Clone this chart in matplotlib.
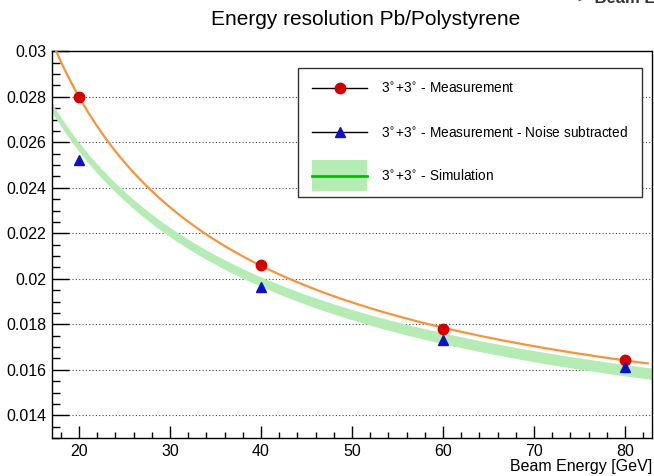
import numpy as np
import matplotlib
matplotlib.use('Agg')
import matplotlib.pyplot as plt
from matplotlib.lines import Line2D
from matplotlib.patches import Patch, Rectangle
from matplotlib.legend_handler import HandlerPatch
from matplotlib.ticker import MultipleLocator, FuncFormatter

plt.rcParams['font.family'] = ['Liberation Sans', 'DejaVu Sans']

# beam energies [GeV]
energy = np.array([20, 40, 60, 80])
# 3+3 measurement and noise subtracted measurement
meas = np.array([0.0280, 0.02059, 0.01781, 0.01644])
meas_nosub = np.array([0.0252, 0.01963, 0.0173, 0.01612])
# simulation: resolution and band half width
sim = np.array([0.0258, 0.01987, 0.01739, 0.01598])
sim_err = np.array([0.00020, 0.00021, 0.00024, 0.00025])

label_meas = r'3$^{\circ}$+3$^{\circ}$ - Measurement'
label_nosub = r'3$^{\circ}$+3$^{\circ}$ - Measurement - Noise subtracted'
label_sim = r'3$^{\circ}$+3$^{\circ}$ - Simulation'


def reso_fit(e, s):
    # sigma^2 = c^2/E^2 + a^2/E + b^2
    p = np.polyfit(1.0 / e, s ** 2, 2)
    return lambda x: np.sqrt(np.polyval(p, 1.0 / x))


def tall_box(legend, orig_handle, xdescent, ydescent, width, height, fontsize):
    # band entry drawn as a tall box like ROOT's fill style
    cy = -ydescent + height / 2.0
    h = 22.5
    return Rectangle((-xdescent, cy - h / 2), width, h)


fig = plt.figure(figsize=(6.54, 4.76), dpi=100)
ax = fig.add_axes([0.079, 0.0798, 0.9183, 0.8124])

xx = np.linspace(17, 83, 300)
f_sim = reso_fit(energy, sim)
w = np.interp(xx, energy, sim_err)
ax.fill_between(xx, f_sim(xx) - w, f_sim(xx) + w, color='#b4ecb4', lw=0, zorder=1)

xf = np.linspace(17, 82.5, 300)
f_meas = reso_fit(energy, meas)
ax.plot(xf, f_meas(xf), color='#f7943a', lw=1.6, zorder=3)

ax.plot(energy, meas, 'o', color='#d40000', ms=7.5, zorder=4)
ax.plot(energy, meas_nosub, '^', color='#1010c8', ms=7.5, zorder=4)

ax.set_xlim(17, 83)
ax.set_ylim(0.013, 0.03)
ax.xaxis.set_major_locator(MultipleLocator(10))
ax.xaxis.set_minor_locator(MultipleLocator(2))
ax.yaxis.set_major_locator(MultipleLocator(0.002))
ax.yaxis.set_minor_locator(MultipleLocator(0.0005))
ax.yaxis.set_major_formatter(FuncFormatter(lambda v, p: '%g' % round(v, 4)))
ax.tick_params(axis='both', which='both', direction='in', top=False, right=False,
               labelsize=11.5, width=1, colors='black')
ax.tick_params(axis='y', which='major', length=12, pad=4)
ax.tick_params(axis='y', which='minor', length=6)
ax.tick_params(axis='x', which='major', length=8.5, pad=4)
ax.tick_params(axis='x', which='minor', length=4.3)
ax.set_axisbelow(True)
ax.grid(axis='y', which='major', color='#444444', lw=0.8, ls=(0, (1, 2)))
ax.grid(axis='x', visible=False)
for s in ax.spines.values():
    s.set_linewidth(1)
    s.set_color('black')

handles = [
    Line2D([], [], color='black', lw=1, marker='o', mfc='#d40000', mec='#d40000', ms=7.5),
    Line2D([], [], color='black', lw=1, marker='^', mfc='#1010c8', mec='#1010c8', ms=7.5),
    (Patch(facecolor='#b4ecb4', edgecolor='none'), Line2D([], [], color='#00c000', lw=2)),
]
leg = fig.legend(handles, [label_meas, label_nosub, label_sim],
                 loc='upper left', bbox_to_anchor=(298 / 654, 1 - 68 / 476),
                 borderaxespad=0, fontsize=9.8, handlelength=4.1, handleheight=0.7,
                 labelspacing=2.1, borderpad=1.0, handletextpad=1.0,
                 fancybox=False, edgecolor='#333333', framealpha=1,
                 handler_map={Patch: HandlerPatch(patch_func=tall_box)})
leg.get_frame().set_linewidth(1)

fig.text(0.5596, 0.958, 'Energy resolution Pb/Polystyrene', fontsize=15,
         ha='center', va='center')
fig.text(0.997, 1 - 467 / 476, 'Beam Energy [GeV]', fontsize=11.5,
         ha='right', va='center')
fig.text(576 / 654, 1 - 3 / 476, '\u27a2 Beam Energy', fontsize=12,
         fontweight='bold', color='#333333', ha='left', va='baseline')

fig.savefig('out.png', dpi=100)
